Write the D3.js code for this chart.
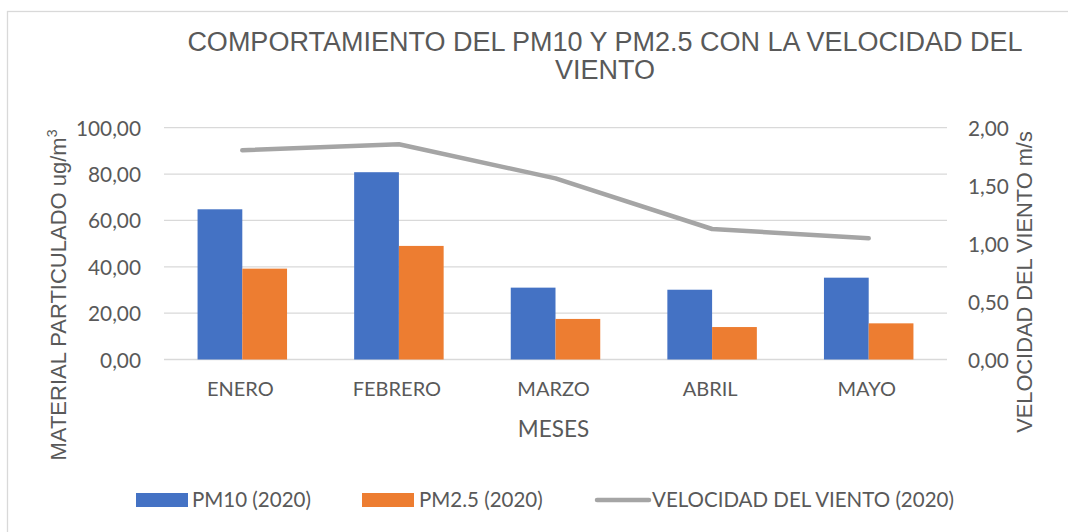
<!DOCTYPE html>
<html>
<head>
<meta charset="utf-8">
<script src="https://cdn.jsdelivr.net/npm/d3@7"></script>
<style>
  html, body { margin: 0; padding: 0; background: #fff; }
  svg { display: block; }
</style>
</head>
<body>
<svg id="chart" width="1068" height="532"></svg>
<script>
// Monthly particulate matter (ug/m3) and wind speed (m/s), 2020
const months = ["ENERO", "FEBRERO", "MARZO", "ABRIL", "MAYO"];
const pm10 = [64.8, 80.8, 31.0, 30.1, 35.3];
const pm25 = [39.2, 49.0, 17.5, 14.0, 15.6];
const windSpeed = [1.805, 1.857, 1.563, 1.126, 1.046];
const leftTicks = [0, 20, 40, 60, 80, 100];
const rightTicks = [0, 0.5, 1, 1.5, 2];
const seriesNames = ["PM10 (2020)", "PM2.5 (2020)", "VELOCIDAD DEL VIENTO (2020)"];

const colors = { pm10: "#4472C4", pm25: "#ED7D31", wind: "#A5A5A5", text: "#595959", grid: "#D9D9D9" };
const tickFont = "Lato, 'Open Sans', sans-serif";
const titleFont = "'Liberation Sans', Arial, sans-serif";

const svg = d3.select("#chart");
const plot = { left: 164, right: 947, top: 127.7, bottom: 359.5 };

// chart frame
svg.append("rect")
  .attr("x", 7.5).attr("y", 11.5)
  .attr("width", 1100).attr("height", 600)
  .attr("fill", "#fff").attr("stroke", colors.grid).attr("stroke-width", 1.3);

const x = d3.scaleBand().domain(months).range([plot.left, plot.right]).paddingInner(0).paddingOuter(0);
const yLeft = d3.scaleLinear().domain([0, 100]).range([plot.bottom, plot.top]);
const yRight = d3.scaleLinear().domain([0, 2]).range([plot.bottom, plot.top]);

// bar width: two bars + 150% gap per category
const barW = x.bandwidth() / 3.5;

// gridlines
svg.append("g").selectAll("line").data(leftTicks).join("line")
  .attr("x1", plot.left).attr("x2", plot.right)
  .attr("y1", d => yLeft(d)).attr("y2", d => yLeft(d))
  .attr("stroke", colors.grid).attr("stroke-width", 1.3);

const fmt = d => d3.format(".2f")(d).replace(".", ",");

// left axis
const leftAxis = svg.append("g").attr("transform", `translate(${plot.left - 23},0)`)
  .call(d3.axisLeft(yLeft).tickValues(leftTicks).tickSize(0).tickPadding(0).tickFormat(fmt));
leftAxis.select(".domain").remove();
leftAxis.selectAll("text").attr("fill", colors.text).attr("font-family", tickFont)
  .attr("font-size", 20.8).attr("dy", "0.36em");

// right axis
const rightAxis = svg.append("g").attr("transform", `translate(${plot.right + 21},0)`)
  .call(d3.axisRight(yRight).tickValues(rightTicks).tickSize(0).tickPadding(0).tickFormat(fmt));
rightAxis.select(".domain").remove();
rightAxis.selectAll("text").attr("fill", colors.text).attr("font-family", tickFont)
  .attr("font-size", 20.8).attr("dy", "0.36em");

// bottom axis labels
const bottomAxis = svg.append("g").attr("transform", `translate(-2,${plot.bottom})`)
  .call(d3.axisBottom(x).tickSize(0).tickPadding(0));
bottomAxis.select(".domain").remove();
bottomAxis.selectAll("text").attr("fill", colors.text).attr("font-family", tickFont)
  .attr("font-size", 20).attr("dy", "1.8em");

// bars
const groups = svg.append("g").selectAll("g").data(months).join("g");
groups.append("rect")
  .attr("x", d => x(d) + x.bandwidth() / 2 - barW)
  .attr("y", (d, i) => yLeft(pm10[i]))
  .attr("width", barW)
  .attr("height", (d, i) => yLeft(0) - yLeft(pm10[i]))
  .attr("fill", colors.pm10);
groups.append("rect")
  .attr("x", d => x(d) + x.bandwidth() / 2)
  .attr("y", (d, i) => yLeft(pm25[i]))
  .attr("width", barW)
  .attr("height", (d, i) => yLeft(0) - yLeft(pm25[i]))
  .attr("fill", colors.pm25);

// wind speed line
const line = d3.line()
  .x((d, i) => x(months[i]) + x.bandwidth() / 2)
  .y(d => yRight(d));
svg.append("path").datum(windSpeed)
  .attr("d", line)
  .attr("fill", "none").attr("stroke", colors.wind)
  .attr("stroke-width", 4.5).attr("stroke-linecap", "round").attr("stroke-linejoin", "round");

// title
const title = svg.append("text").attr("text-anchor", "middle")
  .attr("fill", colors.text).attr("font-family", titleFont).attr("font-size", 27);
title.append("tspan").attr("x", 605).attr("y", 51).text("COMPORTAMIENTO DEL PM10 Y PM2.5 CON LA VELOCIDAD DEL");
title.append("tspan").attr("x", 605).attr("y", 78.5).text("VIENTO");

// axis titles
svg.append("text").attr("x", (plot.left + plot.right) / 2 - 2).attr("y", 437.3)
  .attr("text-anchor", "middle").attr("fill", colors.text)
  .attr("font-family", tickFont).attr("font-size", 22.5).text("MESES");

const yTitle = svg.append("text")
  .attr("transform", "translate(66,295) rotate(-90)")
  .attr("text-anchor", "middle").attr("fill", colors.text)
  .attr("font-family", titleFont).attr("font-size", 22);
yTitle.append("tspan").text("MATERIAL PARTICULADO ug/m");
yTitle.append("tspan").attr("font-size", 14).attr("dy", -9).text("3");

svg.append("text")
  .attr("transform", "translate(1032,282) rotate(-90)")
  .attr("text-anchor", "middle").attr("fill", colors.text)
  .attr("font-family", titleFont).attr("font-size", 21.8)
  .text("VELOCIDAD DEL VIENTO m/s");

// legend
const legend = svg.append("g").attr("font-family", tickFont).attr("font-size", 20.5).attr("fill", colors.text);
const legendItems = [
  { name: seriesNames[0], kind: "rect", color: colors.pm10, x0: 136, x1: 188, tx: 192 },
  { name: seriesNames[1], kind: "rect", color: colors.pm25, x0: 362, x1: 414, tx: 419 },
  { name: seriesNames[2], kind: "line", color: colors.wind, x0: 597, x1: 649, tx: 652 }
];
legendItems.forEach(it => {
  if (it.kind === "rect") {
    legend.append("rect").attr("x", it.x0).attr("y", 493).attr("width", it.x1 - it.x0).attr("height", 14).attr("fill", it.color);
  } else {
    legend.append("line").attr("x1", it.x0).attr("x2", it.x1).attr("y1", 500).attr("y2", 500)
      .attr("stroke", it.color).attr("stroke-width", 4.5).attr("stroke-linecap", "round");
  }
  legend.append("text").attr("x", it.tx).attr("y", 500).attr("dy", "0.36em").text(it.name);
});
</script>
</body>
</html>
